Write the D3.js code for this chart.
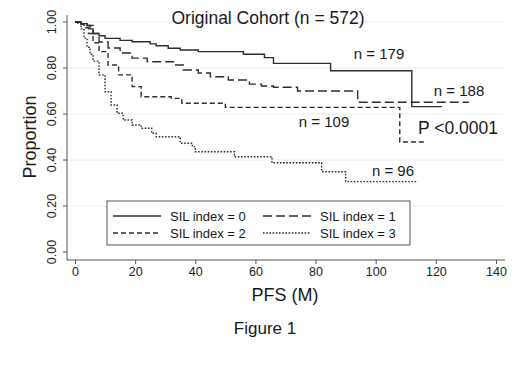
<!DOCTYPE html>
<html>
<head>
<meta charset="utf-8">
<style>
  body { margin: 0; background: #fff; }
  svg { font-family: "Liberation Sans", Arial, Helvetica, sans-serif; }
</style>
</head>
<body>
<script src="https://d3js.org/d3.v7.min.js"></script>
<script>
    var width = 520, height = 379;

    // Kaplan-Meier step points (months, proportion)
    var sil0Times = [0, 2, 4, 5, 6, 8, 10, 15, 19, 25, 27, 31, 35, 41, 56, 63, 66, 85, 112, 122];
    var sil0Surv  = [1.0, 0.993, 0.985, 0.97, 0.95, 0.94, 0.929, 0.92, 0.914, 0.905, 0.897, 0.886, 0.878, 0.871, 0.86, 0.845, 0.82, 0.788, 0.632, 0.632];

    var sil1Times = [0, 2, 4, 6, 8, 11, 15, 19, 24, 33, 36, 41, 45, 51, 58, 62, 66, 74, 94, 131];
    var sil1Surv  = [1.0, 0.993, 0.985, 0.95, 0.913, 0.887, 0.865, 0.843, 0.827, 0.813, 0.791, 0.778, 0.762, 0.748, 0.73, 0.722, 0.716, 0.70, 0.651, 0.651];

    var sil2Times = [0, 2, 3, 4.5, 6, 8, 11, 14.5, 19, 22, 32, 35.5, 50, 108, 116];
    var sil2Surv  = [1.0, 0.99, 0.975, 0.95, 0.91, 0.871, 0.813, 0.77, 0.719, 0.675, 0.668, 0.647, 0.629, 0.478, 0.478];

    var sil3Times = [0, 1, 2, 3, 4, 5, 6, 8, 10, 12, 14, 16, 19, 22, 25.5, 27, 35, 39, 40, 53, 65.5, 82, 90, 114];
    var sil3Surv  = [1.0, 0.994, 0.97, 0.93, 0.89, 0.86, 0.83, 0.77, 0.697, 0.639, 0.603, 0.574, 0.552, 0.538, 0.516, 0.501, 0.473, 0.458, 0.436, 0.414, 0.388, 0.349, 0.306, 0.306];

    var seriesNames = ["SIL index = 0", "SIL index = 1", "SIL index = 2", "SIL index = 3"];
    var xTicks = [0, 20, 40, 60, 80, 100, 120, 140];
    var yTicks = [0, 0.2, 0.4, 0.6, 0.8, 1.0];
    var nLabels = ["n = 179", "n = 188", "n = 109", "n = 96"];

    var series = [
        { name: seriesNames[0], t: sil0Times, s: sil0Surv, dash: null },
        { name: seriesNames[1], t: sil1Times, s: sil1Surv, dash: "9,4" },
        { name: seriesNames[2], t: sil2Times, s: sil2Surv, dash: "5,3" },
        { name: seriesNames[3], t: sil3Times, s: sil3Surv, dash: "1.6,1.6" }
    ];

    var svg = d3.select('body').append('svg').attr('width', width).attr('height', height);

    var x = d3.scaleLinear().domain([0, 140]).range([75, 496]);
    var y = d3.scaleLinear().domain([0, 1]).range([252, 22]);

    // grid lines
    svg.append('g').selectAll('line')
        .data(yTicks.slice(1))
        .join('line')
        .attr('x1', 68).attr('x2', 505)
        .attr('y1', function (d) { return y(d); })
        .attr('y2', function (d) { return y(d); })
        .attr('stroke', '#ececec').attr('stroke-width', 1);

    // y axis
    var yAxis = svg.append('g').attr('transform', 'translate(67,0)')
        .call(d3.axisLeft(y).tickValues(yTicks).tickFormat(d3.format('.2f')).tickSize(4).tickSizeOuter(0));
    yAxis.select('.domain').attr('d', 'M0,15V260');
    yAxis.selectAll('.tick').attr('transform', null);
    yAxis.selectAll('.tick line')
        .attr('y1', function (d) { return y(d); })
        .attr('y2', function (d) { return y(d); });
    yAxis.selectAll('text')
        .attr('transform', function (d) { return 'rotate(-90,-15,' + y(d) + ')'; })
        .attr('x', -15).attr('dy', '0.35em')
        .attr('y', function (d) { return y(d); })
        .attr('text-anchor', 'middle')
        .style('font-size', '12.5px').attr('fill', '#222');

    // x axis
    var xAxis = svg.append('g').attr('transform', 'translate(0,260)')
        .call(d3.axisBottom(x).tickValues(xTicks).tickSize(4).tickSizeOuter(0));
    xAxis.select('.domain').attr('d', 'M67,0H505');
    xAxis.selectAll('text').style('font-size', '12.5px').attr('fill', '#222').attr('y', 7);
    svg.selectAll('.domain, .tick line').attr('stroke', '#555');

    // survival curves
    var line = d3.line()
        .x(function (d) { return x(d[0]); })
        .y(function (d) { return y(d[1]); })
        .curve(d3.curveStepAfter);

    svg.append('g').selectAll('path')
        .data(series)
        .join('path')
        .attr('d', function (d) { return line(d3.zip(d.t, d.s)); })
        .attr('fill', 'none')
        .attr('stroke', '#2e2e2e')
        .attr('stroke-width', 1.4)
        .attr('stroke-dasharray', function (d) { return d.dash; });

    // annotations
    var ann = [
        { text: nLabels[0], x: 379, y: 59, size: 15 },
        { text: nLabels[1], x: 459, y: 96, size: 15 },
        { text: nLabels[2], x: 324, y: 127, size: 15 },
        { text: nLabels[3], x: 393, y: 176, size: 15 },
        { text: "P <0.0001", x: 458, y: 134, size: 17.5 },
        { text: "Original Cohort (n = 572)", x: 268, y: 24, size: 17.5 },
        { text: "PFS (M)", x: 285, y: 301, size: 18 },
        { text: "Figure 1", x: 265, y: 334, size: 17 }
    ];
    svg.append('g').selectAll('text')
        .data(ann)
        .join('text')
        .attr('x', function (d) { return d.x; })
        .attr('y', function (d) { return d.y; })
        .attr('text-anchor', 'middle')
        .style('font-size', function (d) { return d.size + 'px'; })
        .attr('fill', '#1a1a1a')
        .text(function (d) { return d.text; });

    svg.append('text')
        .attr('transform', 'translate(36,137) rotate(-90)')
        .attr('text-anchor', 'middle')
        .style('font-size', '18px')
        .attr('fill', '#1a1a1a')
        .text('Proportion');

    // legend
    var legend = svg.append('g');
    legend.append('rect')
        .attr('x', 107).attr('y', 201).attr('width', 303).attr('height', 44)
        .attr('fill', '#fff').attr('stroke', '#555').attr('stroke-width', 1);
    var legendPos = [[113, 216], [263, 216], [113, 233], [263, 233]];
    var items = legend.selectAll('g.item')
        .data([0, 1, 2, 3])
        .join('g')
        .attr('class', 'item')
        .attr('transform', function (d) { return 'translate(' + legendPos[d][0] + ',' + legendPos[d][1] + ')'; });
    items.append('line')
        .attr('x1', 0).attr('x2', 48).attr('y1', 0).attr('y2', 0)
        .attr('stroke', '#2e2e2e').attr('stroke-width', 1.4)
        .attr('stroke-dasharray', function (d) { return series[d].dash; });
    items.append('text')
        .attr('x', 57).attr('y', 4.5)
        .style('font-size', '13px')
        .attr('fill', '#1a1a1a')
        .text(function (d) { return series[d].name; });
</script>
</body>
</html>
